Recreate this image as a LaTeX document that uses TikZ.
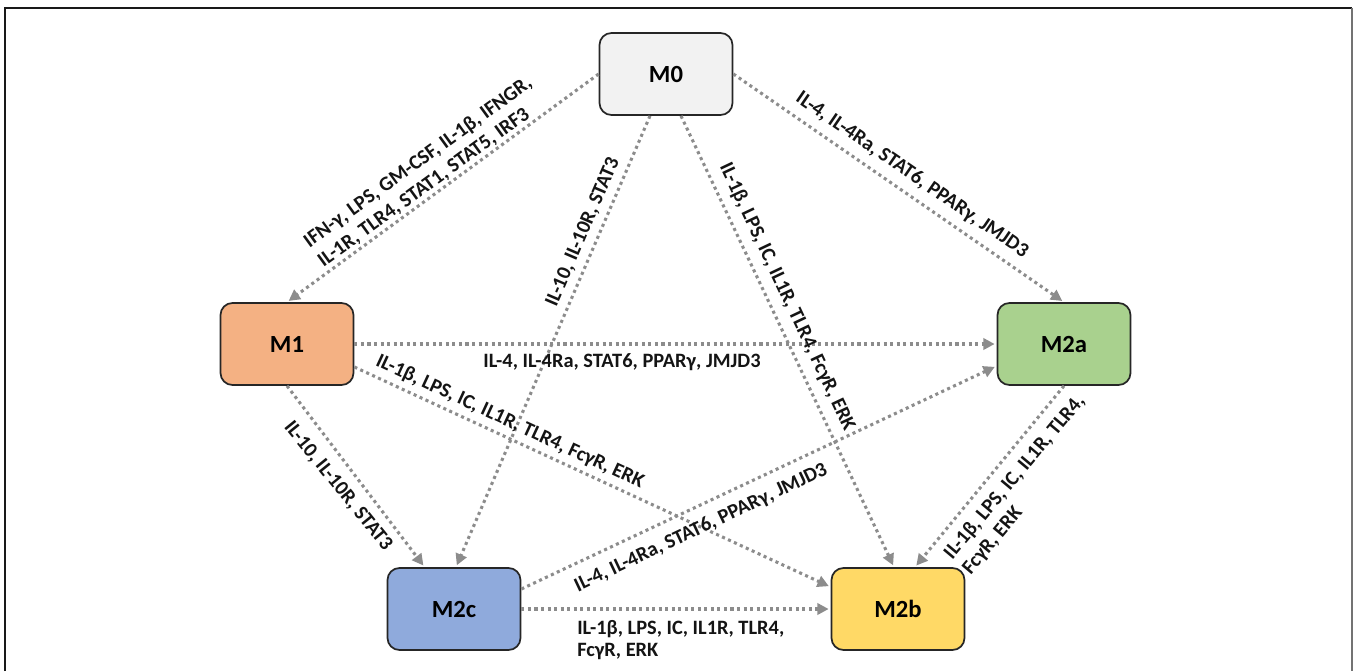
\documentclass[tikz,border=0pt]{standalone}
\usepackage{fontspec}
\setmainfont{Carlito}
\usetikzlibrary{arrows.meta,calc}
\definecolor{conncol}{HTML}{8C8C8C}
\definecolor{c0}{HTML}{F2F2F2}
\definecolor{c1}{HTML}{F4B183}
\definecolor{c2a}{HTML}{A9D18E}
\definecolor{c2c}{HTML}{8FAADC}
\definecolor{c2b}{HTML}{FFD966}
\begin{document}
\begin{tikzpicture}[x=0.75pt,y=-0.75pt,
  box/.style={draw=black!85, line width=1.3pt, rounded corners=9pt,
    minimum width=99.75pt, minimum height=61.5pt, inner sep=0pt,
    font=\bfseries\fontsize{18.5}{20}\selectfont},
  conn/.style={draw=conncol, line width=2.3pt, dash pattern=on 2.3pt off 2.6pt,
    -{Triangle[length=8.5pt,width=8.5pt]}, shorten >=1.5pt},
  lab/.style={font=\bfseries\fontsize{15.3}{18}\selectfont, inner sep=0pt, text=black!92}]
\useasboundingbox (0,0) rectangle (1359,671);
\draw[line width=1.5pt, black!90] (5,671) -- (5,8) -- (1352,8);
\draw[line width=1.5pt, black!55] (1352,8) -- (1352,671);

\node[box, fill=c0]  (M0)  at (666,74)  {M0};
\node[box, fill=c1]  (M1)  at (287,344) {M1};
\node[box, fill=c2a] (M2a) at (1064,344) {M2a};
\node[box, fill=c2c] (M2c) at (454,609) {M2c};
\node[box, fill=c2b] (M2b) at (898,609) {M2b};

\draw[conn] (M0.west) -- (M1.north);
\draw[conn] (M0.east) -- (M2a.north);
\draw[conn] ($(M0.south)+(-16,0)$) -- ($(M2c.north)+(2,0)$);
\draw[conn] ($(M0.south)+(15,0)$) -- ($(M2b.north)+(-4,0)$);
\draw[conn] (M1.east) -- (M2a.west);
\draw[conn] ($(M1.east)+(0,23)$) -- ($(M2b.west)+(0,-22)$);
\draw[conn] (M1.south) -- ($(M2c.north west)+(38,0)$);
\draw[conn] ($(M2c.east)+(0,-20)$) -- ($(M2a.west)+(0,22)$);
\draw[conn] (M2c.east) -- (M2b.west);
\draw[conn] (M2a.south) -- ($(M2b.north)+(17,0)$);

\node[lab, rotate=36, align=left] (l1) at (425,172)
  {IFN-γ, LPS, GM-CSF, IL-1β, IFNGR,\\IL-1R, TLR4, STAT1, STAT5, IRF3};
\node[lab, rotate=-34.5] (l2) at (912,175) {IL-4, IL-4Ra, STAT6, PPARγ, JMJD3};
\node[lab, rotate=66.8] (l3) at (583,232) {IL-10, IL-10R, STAT3};
\node[lab, rotate=-64.7] (l4) at (787,297) {IL-1β, LPS, IC, IL1R, TLR4, FcγR, ERK};
\node[lab] (l5) at (622,362) {IL-4, IL-4Ra, STAT6, PPARγ, JMJD3};
\node[lab, rotate=-24.9] (l6) at (510,422) {IL-1β, LPS, IC, IL1R, TLR4, FcγR, ERK};
\node[lab, rotate=-51] (l7) at (338,486) {IL-10, IL-10R, STAT3};
\node[lab, rotate=25.3] (l8) at (701,528) {IL-4, IL-4Ra, STAT6, PPARγ, JMJD3};
\node[lab, anchor=west, align=left, font=\bfseries\fontsize{15.3}{16.5}\selectfont] (l9) at (577,640)
  {IL-1β, LPS, IC, IL1R, TLR4,\\FcγR, ERK};
\node[lab, rotate=50, align=left] (l10) at (1024,485)
  {IL-1β, LPS, IC, IL1R, TLR4,\\FcγR, ERK};
\end{tikzpicture}
\end{document}
